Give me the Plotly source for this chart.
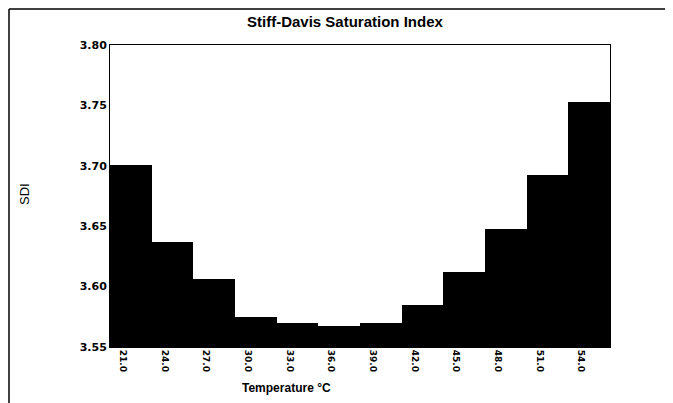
import plotly.graph_objects as go

temperatures = ["21.0", "24.0", "27.0", "30.0", "33.0", "36.0", "39.0", "42.0", "45.0", "48.0", "51.0", "54.0"]
sdi_values = [3.701, 3.637, 3.606, 3.575, 3.570, 3.567, 3.570, 3.585, 3.612, 3.648, 3.692, 3.753]
y_ticks = [3.55, 3.60, 3.65, 3.70, 3.75, 3.80]

# page is offset by the browser's 8px body margin
OFF = 8
W, H = 673, 403
# target plot area on screen: x 110..610, y 45..347
L, R, T, B = 110 - OFF, W + OFF - 610, 45 - OFF, H + OFF - 347
pw, ph = W - L - R, H - T - B


def px(x):
    return (x - OFF - L) / pw


def py(y):
    return (H - B - (y - OFF)) / ph


fig = go.Figure(go.Bar(x=temperatures, y=sdi_values, marker=dict(color="black", line=dict(width=0))))

fig.update_layout(
    width=W, height=H,
    margin=dict(l=L, r=R, t=T, b=B, autoexpand=False),
    paper_bgcolor="white", plot_bgcolor="white",
    bargap=0,
    showlegend=False,
    font=dict(family="Liberation Sans, Arial, sans-serif", color="black"),
)
fig.update_xaxes(type="category", showline=True, mirror=True, linecolor="black", linewidth=1,
                 ticks="", tickangle=90, ticklabelshift=-8, automargin=False,
                 tickfont=dict(family="DejaVu Sans", size=9, color="black", weight="bold"),
                 showgrid=False)
fig.update_yaxes(range=[3.55, 3.80], tickvals=y_ticks, tickformat=".2f", showline=True, mirror=True,
                 linecolor="black", linewidth=1, ticks="", showgrid=False, zeroline=False, automargin=False,
                 tickfont=dict(family="DejaVu Sans", size=11, color="black", weight="bold"))

ann = [
    dict(text="<b>Stiff-Davis Saturation Index</b>", x=px(345), y=py(22), xref="paper", yref="paper",
         showarrow=False, font=dict(size=15, family="Liberation Sans, Arial", color="black"),
         xanchor="center", yanchor="middle"),
    dict(text="SDI", x=px(24), y=py(194), xref="paper", yref="paper", textangle=-90,
         showarrow=False, font=dict(size=13, family="Liberation Sans, Arial", color="black"),
         xanchor="center", yanchor="middle"),
    dict(text="<b>Temperature °C</b>", x=px(286), y=py(388), xref="paper", yref="paper",
         showarrow=False, font=dict(size=12, family="Liberation Sans, Arial", color="black"),
         xanchor="center", yanchor="middle"),
]
fig.update_layout(annotations=ann)

# outer frame (left and top edges), drawn at the first visible pixels of the figure
shapes = [
    dict(type="line", xref="paper", yref="paper", x0=px(9), x1=px(681), y0=py(9), y1=py(9),
         line=dict(color="black", width=1.5)),
    dict(type="line", xref="paper", yref="paper", x0=px(9), x1=px(9), y0=py(9), y1=py(411),
         line=dict(color="black", width=1.5)),
]
fig.update_layout(shapes=shapes)

fig.write_html("out.html")
